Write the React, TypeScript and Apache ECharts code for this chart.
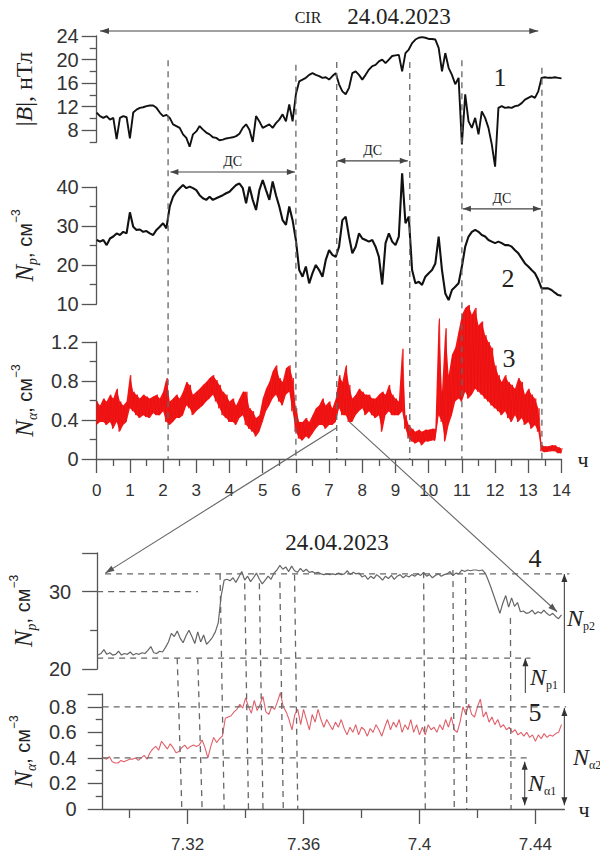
import React, { useEffect, useRef } from 'react';
import * as echarts from 'echarts';

// ---------- data ----------
const TOP_STEP = 0.1; // hours between samples, top panels (0..14 h)
const ZOOM_START = 7.291; // hours, first sample of zoomed panels
const ZOOM_STEP = 0.001;

// |B|, nT
const bMag = [
  11.0, 10.4, 10.1, 10.4, 9.8, 10.1, 6.5, 10.1, 10.4, 10.2,
  6.6, 11.0, 11.5, 11.8, 11.9, 12.1, 12.2, 12.2, 11.8, 11.0,
  10.4, 10.6, 10.1, 9.0, 8.7, 8.4, 7.3, 6.7, 5.2, 7.3,
  7.8, 8.7, 8.1, 7.6, 7.3, 6.8, 6.7, 6.3, 6.4, 6.6,
  6.7, 6.8, 7.0, 7.4, 8.4, 9.0, 8.1, 6.0, 10.4, 9.5,
  8.4, 8.7, 9.0, 8.4, 9.2, 9.8, 10.7, 9.5, 12.4, 9.5,
  14.1, 16.3, 16.6, 16.9, 17.4, 17.7, 17.4, 17.2, 16.9, 17.0,
  16.6, 17.2, 17.7, 15.8, 14.6, 14.1, 15.2, 17.7, 18.0, 17.4,
  16.6, 17.4, 18.3, 18.9, 19.1, 19.7, 20.0, 19.4, 20.0, 20.6,
  20.7, 20.8, 18.0, 21.1, 21.7, 22.8, 23.4, 23.7, 23.8, 23.7,
  23.5, 23.5, 23.4, 22.0, 18.0, 21.1, 18.6, 17.4, 15.8, 16.9,
  5.6, 14.1, 9.5, 8.4, 10.1, 7.3, 11.2, 10.1, 8.4, 5.6,
  1.8, 11.8, 12.1, 11.8, 11.9, 11.8, 12.1, 12.2, 12.6, 13.2,
  13.5, 13.8, 13.5, 14.6, 16.9, 17.0, 16.9, 16.9, 17.0, 16.9,
  16.8,
];

// Np, cm^-3
const npHour = [
  26.4, 26.0, 26.4, 25.1, 26.8, 27.3, 28.1, 27.7, 28.5, 28.1,
  33.5, 29.8, 29.0, 29.1, 28.5, 28.7, 28.1, 27.7, 29.0, 29.8,
  30.7, 29.4, 35.0, 37.5, 38.8, 39.7, 40.5, 39.7, 40.1, 39.7,
  39.2, 37.9, 37.1, 36.7, 37.5, 36.7, 37.1, 37.5, 37.9, 38.4,
  38.8, 39.7, 40.5, 40.9, 39.7, 35.8, 40.1, 36.7, 34.1, 39.2,
  41.8, 39.2, 36.7, 41.4, 37.9, 35.0, 31.5, 30.3, 35.0, 31.5,
  26.4, 18.7, 17.0, 19.6, 15.3, 17.9, 20.0, 18.7, 17.0, 21.3,
  23.8, 22.6, 22.1, 24.7, 31.5, 32.4, 27.3, 23.0, 24.7, 28.1,
  26.8, 26.4, 26.0, 26.4, 24.7, 22.1, 15.0, 25.6, 28.1, 26.0,
  25.1, 27.3, 43.5, 30.7, 32.4, 18.7, 15.3, 15.7, 14.9, 17.0,
  17.9, 18.7, 20.4, 27.3, 18.7, 12.7, 11.0, 13.6, 14.4, 15.3,
  19.6, 24.7, 27.3, 28.5, 29.0, 28.5, 27.7, 27.3, 26.4, 26.0,
  25.6, 26.0, 25.6, 25.1, 25.1, 24.7, 23.8, 23.0, 21.7, 20.4,
  19.6, 18.7, 17.9, 16.2, 14.0, 14.0, 14.0, 13.6, 12.9, 12.3,
  12.1,
];

// N_alpha, cm^-3 : lower and upper edge of the noisy band
const naHourLow = [
  0.35, 0.38, 0.38, 0.35, 0.38, 0.31, 0.38, 0.28, 0.35, 0.38,
  0.52, 0.49, 0.45, 0.42, 0.45, 0.43, 0.42, 0.47, 0.45, 0.45,
  0.49, 0.38, 0.35, 0.38, 0.42, 0.42, 0.45, 0.55, 0.52, 0.45,
  0.49, 0.52, 0.55, 0.59, 0.62, 0.66, 0.59, 0.52, 0.45, 0.42,
  0.38, 0.38, 0.35, 0.42, 0.45, 0.35, 0.31, 0.28, 0.23, 0.28,
  0.38, 0.49, 0.55, 0.62, 0.66, 0.59, 0.55, 0.66, 0.69, 0.49,
  0.28, 0.21, 0.19, 0.23, 0.21, 0.26, 0.31, 0.35, 0.35, 0.31,
  0.35, 0.35, 0.38, 0.52, 0.45, 0.45, 0.38, 0.38, 0.45, 0.49,
  0.52, 0.45, 0.49, 0.45, 0.42, 0.45, 0.28, 0.45, 0.49, 0.45,
  0.45, 0.45, 0.49, 0.31, 0.21, 0.18, 0.16, 0.18, 0.14, 0.18,
  0.18, 0.19, 0.19, 0.45, 0.38, 0.18, 0.35, 0.45, 0.59, 0.62,
  0.59, 0.69, 0.62, 0.66, 0.72, 0.69, 0.66, 0.62, 0.59, 0.55,
  0.52, 0.49, 0.45, 0.49, 0.42, 0.38, 0.45, 0.38, 0.42, 0.35,
  0.38, 0.31, 0.35, 0.28, 0.08, 0.07, 0.075, 0.08, 0.08, 0.06,
  0.06,
];
const naHourHigh = [
  0.59, 0.55, 0.62, 0.59, 0.66, 0.62, 0.72, 0.59, 0.55, 0.59,
  0.86, 0.69, 0.66, 0.62, 0.66, 0.64, 0.62, 0.64, 0.66, 0.62,
  0.69, 0.83, 0.59, 0.62, 0.66, 0.62, 0.69, 0.79, 0.76, 0.66,
  0.69, 0.72, 0.76, 0.79, 0.83, 0.86, 0.81, 0.76, 0.69, 0.66,
  0.59, 0.62, 0.55, 0.62, 0.69, 0.69, 0.52, 0.49, 0.42, 0.45,
  0.62, 0.72, 0.79, 0.90, 0.96, 0.83, 0.79, 0.93, 0.96, 0.83,
  0.52, 0.38, 0.38, 0.42, 0.38, 0.45, 0.52, 0.55, 0.62, 0.55,
  0.59, 0.52, 0.62, 0.86, 0.79, 0.96, 0.76, 0.62, 0.66, 0.72,
  0.69, 0.66, 0.66, 0.62, 0.62, 0.66, 0.69, 0.66, 0.76, 0.66,
  0.62, 0.59, 1.13, 0.45, 0.35, 0.31, 0.28, 0.30, 0.28, 0.30,
  0.30, 0.31, 0.31, 1.44, 0.69, 1.34, 0.86, 1.07, 1.14, 1.31,
  1.48, 1.55, 1.58, 1.48, 1.55, 1.37, 1.41, 1.27, 1.20, 1.14,
  0.96, 0.86, 0.79, 0.86, 0.79, 0.76, 0.72, 0.83, 0.79, 0.66,
  0.72, 0.66, 0.62, 0.52, 0.14, 0.13, 0.13, 0.14, 0.14, 0.12,
  0.11,
];

// zoomed interval 7.291 .. 7.449 h
const npZoom = [
  21.8, 22.0, 22.5, 21.9, 22.1, 21.8, 21.9, 22.3, 21.8, 22.0,
  21.9, 22.2, 21.8, 22.0, 21.9, 22.1, 22.0, 22.4, 22.9, 22.1,
  22.0, 22.3, 22.2, 22.8, 23.5, 24.6, 24.2, 24.9, 24.0, 23.4,
  24.3, 25.0, 24.2, 23.3, 24.8, 23.5, 24.4, 23.2, 23.6, 24.1,
  24.8, 26.0, 29.5, 31.5, 31.6, 31.4, 31.8, 31.2, 31.9, 32.6,
  31.5, 32.0, 31.3, 31.8, 32.4, 31.6, 31.0, 31.5, 32.0, 31.6,
  32.4, 32.8, 33.4, 32.9, 33.2, 32.6, 33.3, 32.7, 32.5, 33.0,
  32.6, 32.9, 32.5, 32.6, 32.4, 32.5, 32.3, 32.2, 32.3, 32.2,
  32.3, 32.2, 32.4, 32.2, 32.3, 32.7, 32.2, 32.5, 32.3, 32.4,
  31.9, 32.1, 31.6, 32.0, 31.7, 32.2, 31.9, 31.5, 32.0, 31.7,
  32.1, 31.6, 32.0, 32.2, 31.8, 32.1, 31.9, 32.2, 32.0, 32.3,
  32.1, 32.5, 32.0, 32.2, 31.8, 32.1, 32.3, 32.0, 32.2, 32.3,
  32.6, 32.1, 32.4, 32.3, 32.8, 32.6, 32.8, 32.7, 32.8, 32.8,
  32.7, 32.8, 32.4, 31.5, 30.5, 29.4, 28.3, 27.2, 28.5, 29.5,
  28.0, 29.2, 28.1, 28.6, 27.4, 27.5, 27.2, 27.3, 27.6, 27.1,
  27.4, 27.2, 27.6, 27.2, 26.9, 27.2, 26.8, 26.5, 27.0,
];
const naZoom = [
  0.40, 0.39, 0.41, 0.37, 0.36, 0.36, 0.38, 0.37, 0.38, 0.39,
  0.39, 0.40, 0.38, 0.40, 0.42, 0.39, 0.44, 0.47, 0.49, 0.46,
  0.53, 0.50, 0.47, 0.51, 0.48, 0.44, 0.45, 0.48, 0.50, 0.47,
  0.49, 0.50, 0.49, 0.50, 0.54, 0.48, 0.40, 0.49, 0.56, 0.52,
  0.55, 0.57, 0.71, 0.72, 0.73, 0.76, 0.78, 0.82, 0.79, 0.87,
  0.80, 0.75, 0.85, 0.77, 0.82, 0.88, 0.76, 0.74, 0.80, 0.78,
  0.84, 0.91, 0.80, 0.76, 0.70, 0.62, 0.74, 0.78, 0.66, 0.78,
  0.70, 0.62, 0.74, 0.68, 0.78, 0.70, 0.64, 0.70, 0.66, 0.62,
  0.68, 0.64, 0.70, 0.63, 0.58, 0.64, 0.60, 0.66, 0.58, 0.64,
  0.62, 0.57, 0.63, 0.60, 0.66, 0.62, 0.57, 0.64, 0.70, 0.62,
  0.68, 0.64, 0.70, 0.60, 0.66, 0.62, 0.70, 0.60, 0.66, 0.58,
  0.64, 0.58, 0.66, 0.62, 0.64, 0.60, 0.66, 0.62, 0.70, 0.64,
  0.72, 0.62, 0.60, 0.68, 0.80, 0.74, 0.82, 0.74, 0.72, 0.80,
  0.86, 0.72, 0.76, 0.68, 0.72, 0.66, 0.70, 0.64, 0.66, 0.62,
  0.64, 0.60, 0.62, 0.58, 0.60, 0.57, 0.60, 0.56, 0.58, 0.53,
  0.58, 0.55, 0.59, 0.56, 0.58, 0.57, 0.59, 0.60, 0.66,
];

// ticks
const hourTicks = [0, 1, 2, 3, 4, 5, 6, 7, 8, 9, 10, 11, 12, 13, 14];
const halfHourTicks = [0.5, 1.5, 2.5, 3.5, 4.5, 5.5, 6.5, 7.5, 8.5, 9.5, 10.5, 11.5, 12.5, 13.5];
const zoomMajorTicks = [7.32, 7.36, 7.4, 7.44];
const zoomMinorTicks = [7.3, 7.34, 7.38, 7.42];
const bLabels = [8, 12, 16, 20, 24];
const bMinor = [6, 10, 14, 18, 22];
const npLabels = [10, 20, 30, 40];
const npMinor = [15, 25, 35];
const naLabels = [0, 0.4, 0.8, 1.2];
const naMinor = [0.2, 0.6, 1.0];
const npZLabels = [20, 30];
const npZMajor = [20, 30, 35];
const npZMinor = [25];
const naZLabels = [0, 0.2, 0.4, 0.6, 0.8];
const naZMajor = [0, 0.2, 0.4, 0.6, 0.8, 0.9];
const naZMinor = [0.1, 0.3, 0.5, 0.7];

// event boundaries (h) and the |B| level where each dashed line starts
const boundaryTimes = [2.15, 6.0, 7.23, 9.43, 11.0, 13.41];
const boundaryTopB = [19.9, 19.1, 19.6, 19.6, 19.9, 18.6];
// dashed markers in the zoomed panels (h) and the Np level where they start
const zoomMarkTimes = [7.318, 7.325, 7.3326, 7.341, 7.346, 7.353, 7.358, 7.402, 7.412, 7.4163, 7.4316];
const zoomMarkTopNp = [21.4, 21.4, 32.3, 31.1, 31.1, 31.25, 32.2, 32.5, 32.8, 31.9, 26.6];

// ---------- styling ----------
const AX = '#555';
const SANS = 'Liberation Sans, Arial, sans-serif';
const SERIF = 'Liberation Serif, Times New Roman, serif';
const TXT = '#222';

const ZMIN = 7.2907;
const ZMAX = 7.45;

const nameRich = {
  n: { fontFamily: SERIF, fontStyle: 'italic', fontSize: 25, lineHeight: 30, color: TXT },
  s: { fontFamily: SERIF, fontStyle: 'italic', fontSize: 14, verticalAlign: 'bottom', color: TXT },
  c: { fontFamily: SANS, fontSize: 20, color: TXT },
  u: { fontFamily: SANS, fontSize: 12, verticalAlign: 'top', color: TXT },
  r: { fontFamily: SERIF, fontSize: 24, lineHeight: 30, color: TXT },
  i: { fontFamily: SERIF, fontStyle: 'italic', fontSize: 24, color: TXT },
};

function yMain(gridIndex: number, min: number, max: number, labels: number[], major: number[], margin: number, name: string, nameGap: number) {
  return {
    type: 'value', gridIndex, min, max, position: 'left', offset: 0,
    axisLine: { show: true, lineStyle: { color: AX, width: 1.3 } },
    axisTick: { show: true, customValues: major, length: 15, lineStyle: { color: AX, width: 1.3 } },
    axisLabel: { customValues: labels, margin, fontSize: 20, color: '#333', fontFamily: SANS },
    splitLine: { show: false },
    name, nameLocation: 'middle', nameRotate: 90, nameGap,
    nameTextStyle: { rich: nameRich },
  };
}
function yMinor(gridIndex: number, min: number, max: number, minor: number[]) {
  return {
    type: 'value', gridIndex, min, max, position: 'left', offset: 0,
    axisLine: { show: false },
    axisTick: { show: true, customValues: minor, length: 7, lineStyle: { color: AX, width: 1.3 } },
    axisLabel: { show: false }, splitLine: { show: false },
  };
}
function xHidden(gridIndex: number, min: number, max: number) {
  return { type: 'value', gridIndex, min, max, position: 'bottom', offset: 0, show: false };
}

function buildOption() {
  const grids = [
    { left: 96.7, top: 36, width: 464.8, height: 106 },
    { left: 96.7, top: 187, width: 464.8, height: 117 },
    { left: 96.7, top: 342, width: 464.8, height: 117 },
    { left: 96.7, top: 553, width: 467.7, height: 116 },
    { left: 96.7, top: 694, width: 467.7, height: 115 },
  ];
  const xAxis = [
    xHidden(0, 0, 14),
    xHidden(1, 0, 14),
    {
      type: 'value', gridIndex: 2, min: 0, max: 14, position: 'bottom', offset: 0,
      axisLine: { show: true, lineStyle: { color: AX, width: 1.3 } },
      axisTick: { show: true, customValues: hourTicks, length: 14, lineStyle: { color: AX, width: 1.3 } },
      axisLabel: { customValues: hourTicks, margin: 23, fontSize: 17, color: '#333', fontFamily: SANS },
      splitLine: { show: false },
      name: 'ч', nameLocation: 'end', nameGap: 16,
      nameTextStyle: { fontFamily: SERIF, fontSize: 22, color: TXT, padding: [12, 0, 0, 0] },
    },
    xHidden(3, ZMIN, ZMAX),
    {
      type: 'value', gridIndex: 4, min: ZMIN, max: ZMAX, position: 'bottom', offset: 0,
      axisLine: { show: true, lineStyle: { color: AX, width: 1.3 } },
      axisTick: { show: true, customValues: zoomMajorTicks, length: 15, lineStyle: { color: AX, width: 1.3 } },
      axisLabel: {
        customValues: zoomMajorTicks, margin: 27, fontSize: 17, color: '#333', fontFamily: SANS,
        formatter: (v: number) => String(Math.round(v * 100) / 100),
      },
      splitLine: { show: false },
      name: 'ч', nameLocation: 'end', nameGap: 14,
      nameTextStyle: { fontFamily: SERIF, fontSize: 22, color: TXT, padding: [8, 0, 0, 0] },
    },
    {
      type: 'value', gridIndex: 2, min: 0, max: 14, position: 'bottom', offset: 0,
      axisLine: { show: false },
      axisTick: { show: true, customValues: halfHourTicks, length: 7, lineStyle: { color: AX, width: 1.3 } },
      axisLabel: { show: false }, splitLine: { show: false },
    },
    {
      type: 'value', gridIndex: 4, min: ZMIN, max: ZMAX, position: 'bottom', offset: 0,
      axisLine: { show: false },
      axisTick: { show: true, customValues: zoomMinorTicks, length: 9, lineStyle: { color: AX, width: 1.3 } },
      axisLabel: { show: false }, splitLine: { show: false },
    },
  ];
  const npName = '{n|N}{s|p}{c|, см}{u|−3}';
  const naName = '{n|N}{s|α}{c|, см}{u|−3}';
  const yAxis = [
    yMain(0, 6, 24, bLabels, bLabels, 18, '{r||}{i|B}{r||, нТл}', 58),
    yMain(1, 10, 40, npLabels, npLabels, 18, npName, 57),
    yMain(2, 0, 1.2, naLabels, naLabels, 18, naName, 57),
    yMain(3, 20, 35, npZLabels, npZMajor, 26, npName, 57),
    yMain(4, 0, 0.9, naZLabels, naZMajor, 26, naName, 57),
    yMinor(0, 6, 24, bMinor),
    yMinor(1, 10, 40, npMinor),
    yMinor(2, 0, 1.2, naMinor),
    yMinor(3, 20, 35, npZMinor),
    yMinor(4, 0, 0.9, naZMinor),
  ];

  // noisy alpha band: zig-zag between the two edges + filled band between them
  const naBand: number[][] = [];
  naHourLow.forEach((lo, i) => {
    const t = i * TOP_STEP;
    naBand.push([t - TOP_STEP / 4, lo]);
    naBand.push([t + TOP_STEP / 4, naHourHigh[i]]);
  });
  const bandOutline: number[][] = [
    ...naHourLow.map((lo, i) => [i * TOP_STEP, lo]),
    ...naHourHigh.map((hi, i) => [i * TOP_STEP, hi]).reverse(),
  ];

  const line = (xi: number, yi: number, data: number[][], color: string, width: number) => ({
    type: 'line', xAxisIndex: xi, yAxisIndex: yi, data, symbol: 'none', clip: false, silent: true,
    lineStyle: { color, width }, z: 3,
  });

  const series: any[] = [
    line(0, 0, bMag.map((v, i) => [i * TOP_STEP, v]), '#111', 1.9),
    line(1, 1, npHour.map((v, i) => [i * TOP_STEP, v]), '#111', 2.1),
    {
      type: 'custom', xAxisIndex: 2, yAxisIndex: 2, clip: false, silent: true, z: 2,
      data: [[0, 0]],
      renderItem: (params: any, api: any) => {
        if (params.dataIndex !== 0) return null;
        return {
          type: 'polygon',
          shape: { points: bandOutline.map((p) => api.coord(p)) },
          style: { fill: '#f31616', stroke: 'none' },
        };
      },
    },
    line(2, 2, naBand, '#ea1010', 0.8),
    line(3, 3, npZoom.map((v, i) => [ZOOM_START + i * ZOOM_STEP, v]), '#666', 1.2),
    line(4, 4, naZoom.map((v, i) => [ZOOM_START + i * ZOOM_STEP, v]), '#e0606a', 1.1),
  ];

  return {
    animation: false,
    backgroundColor: '#fff',
    grid: grids,
    xAxis, yAxis, series,
  };
}

function buildGraphics(chart: any) {
  const P = (g: number, t: number, v: number): [number, number] =>
    chart.convertToPixel({ xAxisIndex: g, yAxisIndex: g }, [t, v]);
  const els: any[] = [];
  const seg = (a: [number, number], b: [number, number], color: string, width: number, dash?: number[]) => {
    els.push({
      type: 'line', silent: true, z: 5,
      shape: { x1: a[0], y1: a[1], x2: b[0], y2: b[1] },
      style: { stroke: color, lineWidth: width, lineDash: dash || null },
    });
  };
  const head = (tip: [number, number], from: [number, number], color: string, len = 9, half = 3) => {
    const dx = tip[0] - from[0], dy = tip[1] - from[1];
    const d = Math.hypot(dx, dy) || 1;
    const ux = dx / d, uy = dy / d;
    const bx = tip[0] - ux * len, by = tip[1] - uy * len;
    els.push({
      type: 'polygon', silent: true, z: 6,
      shape: { points: [[tip[0], tip[1]], [bx - uy * half, by + ux * half], [bx + uy * half, by - ux * half]] },
      style: { fill: color },
    });
  };
  const text = (x: number, y: number, s: string, size: number, opts: any = {}) => {
    els.push({
      type: 'text', x, y, silent: true, z: 7,
      style: { text: s, fontFamily: SERIF, fontSize: size, fill: TXT, align: 'center', verticalAlign: 'middle', ...opts },
    });
  };
  const DASH = [6, 5];
  const DC = '#666';

  // event boundaries through the three top panels
  boundaryTimes.forEach((t, k) => seg(P(0, t, boundaryTopB[k]), P(2, t, 0), DC, 1.3, DASH));

  // CIR arrow
  const c1 = P(0, 0.1, 24.85), c2 = P(0, 13.3, 24.85);
  seg(c1, c2, '#444', 1.1); head(c1, c2, '#444'); head(c2, c1, '#444');
  text(308, 17, 'CIR', 16);
  text(399, 16, '24.04.2023', 23);

  // ДС arrows
  const ds: [number, number, number][] = [[2.22, 5.97, 43.85], [7.25, 9.37, 46.7], [11.03, 13.38, 34.4]];
  ds.forEach(([a, b, v]) => {
    const p1 = P(1, a, v), p2 = P(1, b, v);
    seg(p1, p2, '#444', 1.1); head(p1, p2, '#444', 8, 3); head(p2, p1, '#444', 8, 3);
    text((p1[0] + p2[0]) / 2, p1[1] - 3, 'ДС', 14, { verticalAlign: 'bottom' });
  });

  text(500, 77, '1', 26);
  text(508, 278, '2', 26);
  text(509, 358, '3', 26);

  // connectors to zoomed panels
  const z1a = P(2, 7.23, 0.32), z1b = P(3, 7.2935, 32.4);
  seg(z1a, z1b, '#666', 1.1); head(z1b, z1a, '#555', 9, 3);
  const z2a = P(2, 7.61, 0.38), z2b = P(3, 7.4475, 27.4);
  seg(z2a, z2b, '#666', 1.1); head(z2b, z2a, '#555', 9, 3);

  // zoomed panels: dashed guides
  seg(P(3, 7.2934, 32.3), P(3, 7.4517, 32.3), DC, 1.3, DASH);
  seg(P(3, ZMIN, 30), P(3, 7.3251, 30), DC, 1.3, DASH);
  seg(P(3, ZMIN, 21.4), P(3, 7.4384, 21.4), DC, 1.3, DASH);
  seg(P(4, ZMIN, 0.8), P(4, 7.4506, 0.8), DC, 1.3, DASH);
  seg(P(4, ZMIN, 0.4), P(4, 7.4384, 0.4), DC, 1.3, DASH);
  zoomMarkTimes.forEach((t, k) => seg(P(3, t, zoomMarkTopNp[k]), P(4, t, 0), DC, 1.3, DASH));

  // level arrows
  const np2a = P(3, 7.45, 32.3), np2b = P(3, 7.45, 16.9);
  seg(np2a, np2b, '#555', 1.2); head(np2a, np2b, '#333', 8, 3);
  const np1a = P(3, 7.4367, 21.4), np1b = P(3, 7.4367, 16.9);
  seg(np1a, np1b, '#555', 1.2); head(np1a, np1b, '#333', 8, 3);
  const na2a = P(4, 7.45, 0.79), na2b = P(4, 7.45, 0.03);
  seg(na2a, na2b, '#555', 1.2); head(na2a, na2b, '#333', 8, 3); head(na2b, na2a, '#333', 8, 3);
  const na1a = P(4, 7.4363, 0.37), na1b = P(4, 7.4363, 0.03);
  seg(na1a, na1b, '#555', 1.2); head(na1a, na1b, '#333', 8, 3); head(na1b, na1a, '#333', 8, 3);

  const subRich = {
    n: { fontFamily: SERIF, fontStyle: 'italic', fontSize: 24, lineHeight: 28, fill: TXT },
    s: { fontFamily: SERIF, fontSize: 12, verticalAlign: 'bottom', fill: TXT },
  };
  const nLabel = (x: number, y: number, sub: string) => {
    els.push({
      type: 'text', x, y, silent: true, z: 7,
      style: { text: `{n|N}{s|${sub}}`, rich: subRich, align: 'left', verticalAlign: 'middle' },
    });
  };
  nLabel(567, 618, 'p2');
  nLabel(530, 677, 'p1');
  nLabel(573, 757, 'α2');
  nLabel(528, 783, 'α1');

  text(337, 542, '24.04.2023', 23);
  text(535, 558, '4', 26);
  text(535, 712, '5', 26);

  return els;
}

export default function App() {
  const ref = useRef<HTMLDivElement>(null);
  useEffect(() => {
    if (!ref.current) return;
    const chart = echarts.init(ref.current, null, { renderer: 'svg' });
    chart.setOption(buildOption() as any);
    chart.setOption({ graphic: buildGraphics(chart) } as any);
    return () => chart.dispose();
  }, []);
  return (
    <div
      ref={ref}
      style={{ position: 'absolute', left: 0, top: 0, width: 600, height: 858, background: '#fff' }}
    />
  );
}
